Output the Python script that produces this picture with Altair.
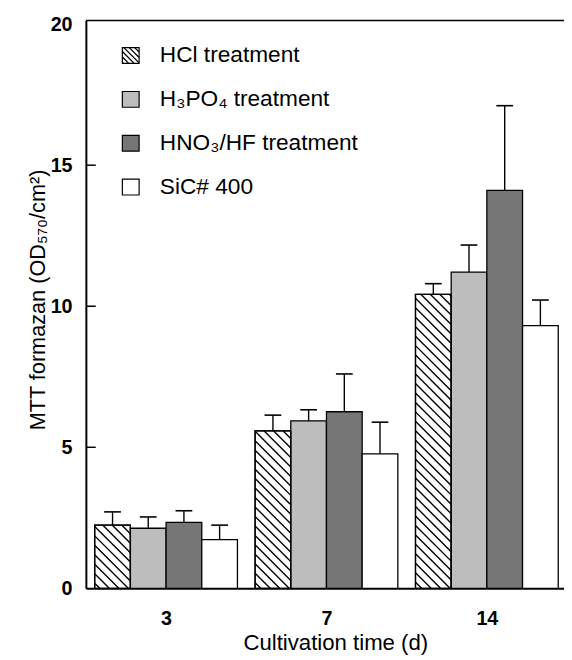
import altair as alt
import pandas as pd

# ---------------- data ----------------
days = ["3", "7", "14"]
treatments = ["HCl treatment", "H₃PO₄ treatment", "HNO₃/HF treatment", "SiC# 400"]
hcl_mean = [2.24, 5.58, 10.42]
hcl_err = [0.47, 0.56, 0.38]
h3po4_mean = [2.13, 5.94, 11.21]
h3po4_err = [0.40, 0.39, 0.96]
hno3_mean = [2.34, 6.26, 14.11]
hno3_err = [0.41, 1.34, 3.00]
sic_mean = [1.73, 4.77, 9.31]
sic_err = [0.51, 1.12, 0.91]
y_ticks = [0, 5, 10, 15, 20]
x_title = "Cultivation time (d)"
y_title = "MTT formazan (OD₅₇₀/cm²)"

# ---------------- style / layout ----------------
fills = ["white", "#bdbdbd", "#767676", "white"]
FONT = "Liberation Sans"
W, H = 485, 576
YMAX = 20.13
STEP_PX = 162.7
XMIN = -0.5
XMAX = XMIN + W / STEP_PX
BAR = 36.2 / STEP_PX
CAP = 8.5 / STEP_PX
PX_PER_Y = H / YMAX
K = STEP_PX / PX_PER_Y
HATCH_GAP_PX = 9.6

means = [hcl_mean, h3po4_mean, hno3_mean, sic_mean]
errs = [hcl_err, h3po4_err, hno3_err, sic_err]

rows = []
for ti, t in enumerate(treatments):
    for gi, d in enumerate(days):
        x0 = gi + (ti - 2) * BAR
        rows.append(dict(treatment=t, day=d, x0=x0, x1=x0 + BAR, xc=x0 + BAR / 2,
                         cl=x0 + BAR / 2 - CAP, cr=x0 + BAR / 2 + CAP,
                         v=means[ti][gi], top=means[ti][gi] + errs[ti][gi], zero=0.0))
bars = pd.DataFrame(rows)


def hatch_segments(xl, xr, yb, yt, k, gap):
    segs = []
    cmin, cmax = yb + k * xl, yt + k * xr
    n = int(cmin // gap)
    while n * gap <= cmax:
        c = n * gap
        xa = max(xl, (c - yt) / k)
        xb = min(xr, (c - yb) / k)
        if xb > xa:
            segs.append(dict(hx0=xa, hx1=xb, hy0=c - k * xa, hy1=c - k * xb))
        n += 1
    return segs


hseg = []
for _, r in bars[bars.treatment == treatments[0]].iterrows():
    hseg += hatch_segments(r.x0, r.x1, 0.0, r.v, K, HATCH_GAP_PX / PX_PER_Y)
hatch = pd.DataFrame(hseg)

xs = alt.Scale(domain=[XMIN, XMAX], nice=False, zero=False)
ys = alt.Scale(domain=[0, YMAX], nice=False, zero=True)

label_expr = "[" + ",".join("'%s'" % d for d in days) + "][datum.value]"


def X(field):
    return alt.X(field, scale=xs, title=x_title)


def Y(field):
    return alt.Y(field, scale=ys, title=y_title)


bar_layer = alt.Chart(bars).mark_rect(stroke="black", strokeWidth=1.3).encode(
    x=alt.X("x0:Q", scale=xs, title=x_title,
            axis=alt.Axis(values=list(range(len(days))), labelExpr=label_expr)),
    x2="x1:Q",
    y=alt.Y("v:Q", scale=ys, title=y_title,
            axis=alt.Axis(values=y_ticks, format="d")),
    y2="zero:Q",
    fill=alt.Fill("treatment:N", scale=alt.Scale(domain=treatments, range=fills),
                  legend=None),
)

hatch_layer = alt.Chart(hatch).mark_rule(color="black", strokeWidth=1.4).encode(
    x=X("hx0:Q"), x2="hx1:Q", y=Y("hy0:Q"), y2="hy1:Q",
)

hcl_outline = alt.Chart(bars[bars.treatment == treatments[0]]).mark_rect(
    fillOpacity=0, stroke="black", strokeWidth=1.3).encode(
    x=X("x0:Q"), x2="x1:Q", y=Y("v:Q"), y2="zero:Q",
)

err_v = alt.Chart(bars).mark_rule(color="black", strokeWidth=1.4).encode(
    x=X("xc:Q"), y=Y("v:Q"), y2="top:Q",
)
err_cap = alt.Chart(bars).mark_rule(color="black", strokeWidth=1.6).encode(
    x=X("cl:Q"), x2="cr:Q", y=Y("top:Q"),
)

tick_layer = alt.Chart(pd.DataFrame({"t": y_ticks[1:-1]})).mark_rule(
    color="black", strokeWidth=1.5).encode(
    x=alt.value(0), x2=alt.value(10), y=Y("t:Q"),
)

top_line = alt.Chart(pd.DataFrame({"a": [0]})).mark_rule(
    color="black", strokeWidth=1.6).encode(
    x=alt.value(0), x2=alt.value(W), y=alt.value(0),
)

# ---------------- legend (pixel placement) ----------------
LEG_X0, LEG_X1 = 37, 54
LEG_Y0, LEG_DY, LEG_HALF = 35.5, 44.5, 8
LEG_TX = 75
one = pd.DataFrame({"a": [0]})
legend_layers = []
for i, t in enumerate(treatments):
    cy = LEG_Y0 + LEG_DY * i
    legend_layers.append(
        alt.Chart(one).mark_rect(fill=fills[i], stroke="black", strokeWidth=1.2).encode(
            x=alt.value(LEG_X0), x2=alt.value(LEG_X1),
            y=alt.value(cy - LEG_HALF), y2=alt.value(cy + LEG_HALF)))
    legend_layers.append(
        alt.Chart(one).mark_text(align="left", baseline="middle", font=FONT,
                                 fontSize=23, color="black", text=t).encode(
            x=alt.value(LEG_TX), y=alt.value(cy)))
    if i == 0:
        for s in hatch_segments(LEG_X0, LEG_X1, -(cy + LEG_HALF), -(cy - LEG_HALF), 1.0, 5.5):
            legend_layers.append(
                alt.Chart(one).mark_rule(color="black", strokeWidth=1.3).encode(
                    x=alt.value(s["hx0"]), x2=alt.value(s["hx1"]),
                    y=alt.value(-s["hy0"]), y2=alt.value(-s["hy1"])))

chart = alt.layer(
    bar_layer, hatch_layer, hcl_outline, err_v, err_cap, tick_layer, top_line,
    *legend_layers,
).properties(
    width=W, height=H,
    autosize=alt.AutoSizeParams(type="none"),
    padding={"left": 79, "top": 8, "right": 0, "bottom": 66},
    background="white",
).configure_view(
    stroke=None
).configure_axis(
    ticks=False, grid=False, domainColor="black", domainWidth=2,
    labelFont=FONT, labelFontWeight="bold", labelColor="black",
    titleFont=FONT, titleFontWeight="normal", titleColor="black",
).configure_axisX(
    labelFontSize=20, labelPadding=21,
    titleFontSize=22.5, titleX=253, titleY=44, titleBaseline="top", titleAlign="center",
).configure_axisY(
    labelFontSize=20, labelPadding=14,
    titleFontSize=22, titleX=-42, titleY=H / 2 - 5, titleAngle=-90,
    titleAlign="center", titleBaseline="alphabetic",
)

chart.save("out.html", embed_options={"renderer": "svg", "actions": False})
